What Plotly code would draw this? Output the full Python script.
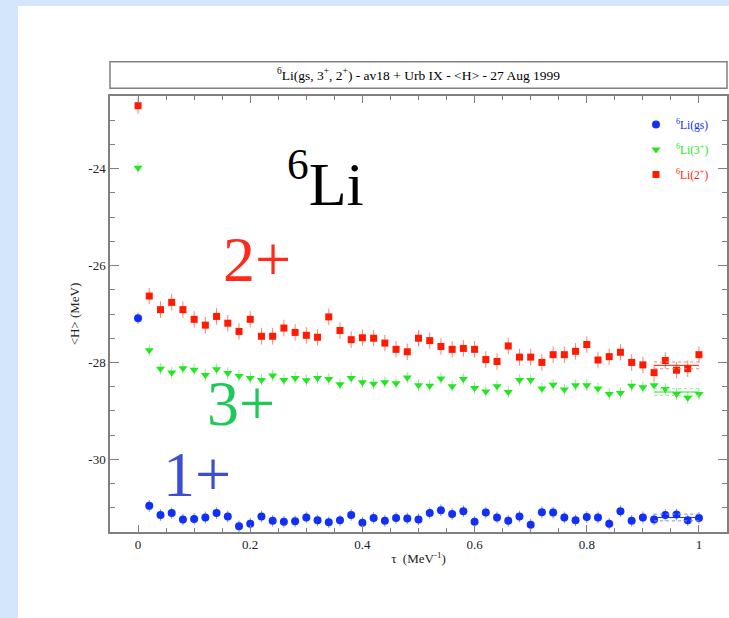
import plotly.graph_objects as go

# ---------------- data ----------------
tau = [0.00, 0.02, 0.04, 0.06, 0.08, 0.10, 0.12, 0.14, 0.16, 0.18, 0.20,
       0.22, 0.24, 0.26, 0.28, 0.30, 0.32, 0.34, 0.36, 0.38, 0.40,
       0.42, 0.44, 0.46, 0.48, 0.50, 0.52, 0.54, 0.56, 0.58, 0.60,
       0.62, 0.64, 0.66, 0.68, 0.70, 0.72, 0.74, 0.76, 0.78, 0.80,
       0.82, 0.84, 0.86, 0.88, 0.90, 0.92, 0.94, 0.96, 0.98, 1.00]

h_2plus = [-22.70,
           -26.63, -26.91, -26.76, -26.91, -27.11, -27.23, -27.05, -27.19, -27.36, -27.11,
           -27.46, -27.46, -27.29, -27.38, -27.44, -27.48, -27.06, -27.34, -27.53, -27.49,
           -27.50, -27.60, -27.73, -27.78, -27.50, -27.55, -27.67, -27.73, -27.71, -27.73,
           -27.94, -27.98, -27.66, -27.89, -27.89, -28.00, -27.84, -27.84, -27.77, -27.63,
           -27.95, -27.88, -27.79, -28.00, -28.05, -28.21, -27.96, -28.16, -28.13, -27.84]

h_3plus = [-23.98,
           -27.75, -28.13, -28.21, -28.12, -28.15, -28.26, -28.14, -28.22, -28.28, -28.32,
           -28.36, -28.27, -28.36, -28.32, -28.37, -28.32, -28.34, -28.45, -28.32, -28.41,
           -28.44, -28.41, -28.43, -28.31, -28.47, -28.48, -28.33, -28.49, -28.34, -28.53,
           -28.60, -28.49, -28.61, -28.36, -28.36, -28.54, -28.46, -28.56, -28.47, -28.47,
           -28.54, -28.65, -28.63, -28.48, -28.51, -28.47, -28.55, -28.65, -28.73, -28.65]

h_gs = [-27.09,
        -30.96, -31.15, -31.11, -31.24, -31.23, -31.20, -31.11, -31.18, -31.38, -31.33,
        -31.18, -31.27, -31.29, -31.28, -31.20, -31.26, -31.30, -31.26, -31.15, -31.31,
        -31.21, -31.27, -31.21, -31.22, -31.24, -31.11, -31.05, -31.13, -31.07, -31.29,
        -31.10, -31.20, -31.27, -31.18, -31.35, -31.09, -31.10, -31.20, -31.26, -31.19,
        -31.20, -31.33, -31.07, -31.27, -31.20, -31.24, -31.15, -31.14, -31.26, -31.21]

err_2plus = 0.17
err_3plus = 0.12
err_gs = 0.12

fit_tau = [0.92, 1.00]
fit_2plus = -28.06
fit_3plus = -28.61
fit_gs = -31.20
fit_err = 0.07

series_names = ["<sup>6</sup>Li(gs)", "<sup>6</sup>Li(3<sup>+</sup>)", "<sup>6</sup>Li(2<sup>+</sup>)"]
x_ticks = [0, 0.2, 0.4, 0.6, 0.8, 1]
x_tick_text = ["0", "0.2", "0.4", "0.6", "0.8", "1"]
y_ticks = [-24, -26, -28, -30]
y_tick_text = ["-24", "-26", "-28", "-30"]

# ---------------- style ----------------
W, H = 729, 618
ML, MR, MT, MB = 110, 2, 96, 86
PW, PH = W - ML - MR, H - MT - MB
SERIF = "Liberation Serif, Times New Roman, serif"
BLUE, GREEN, RED = "#1030f5", "#22e622", "#ff1a00"
BLUE_E, GREEN_E, RED_E = "#7f8cff", "#8ff08f", "#ff8070"
FRAME = "#808080"


def px(x):
    return (x - ML) / PW


def py(y):
    return (H - MB - y) / PH


def span(color, txt):
    return "<span style='color:%s'>%s</span>" % (color, txt)


fig = go.Figure()

fig.add_trace(go.Scatter(
    x=tau, y=h_gs, mode="markers", name=span(BLUE, series_names[0]),
    legendgroup="a",
    marker=dict(symbol="circle", size=8, color=BLUE),
    error_y=dict(type="constant", value=err_gs, color=BLUE_E, thickness=1, width=0)))
fig.add_trace(go.Scatter(
    x=tau, y=h_3plus, mode="markers", name=span(GREEN, series_names[1]),
    legendgroup="b",
    marker=dict(symbol="triangle-down", size=8, color=GREEN),
    error_y=dict(type="constant", value=err_3plus, color=GREEN_E, thickness=1, width=0)))
fig.add_trace(go.Scatter(
    x=tau, y=h_2plus, mode="markers", name=span(RED, series_names[2]),
    legendgroup="c",
    marker=dict(symbol="square", size=7, color=RED),
    error_y=dict(type="constant", value=err_2plus, color=RED_E, thickness=1, width=0)))

# fit lines over the last points
for val, col, colE in [(fit_2plus, RED, RED_E), (fit_3plus, GREEN, GREEN_E), (fit_gs, BLUE, BLUE_E)]:
    fig.add_trace(go.Scatter(x=fit_tau, y=[val, val], mode="lines", showlegend=False,
                             line=dict(color=col, width=1), hoverinfo="skip"))
    for s in (-1, 1):
        fig.add_trace(go.Scatter(x=fit_tau, y=[val + s * fit_err, val + s * fit_err], mode="lines",
                                 showlegend=False, line=dict(color=colE, width=1, dash="dot"),
                                 hoverinfo="skip"))

shapes = [
    dict(type="rect", xref="paper", yref="paper", x0=px(0), x1=px(18), y0=py(H), y1=py(0),
         fillcolor="#d4e6fb", line=dict(width=0), layer="below"),
    dict(type="rect", xref="paper", yref="paper", x0=px(0), x1=px(W), y0=py(6), y1=py(0),
         fillcolor="#d4e6fb", line=dict(width=0), layer="below"),
    dict(type="rect", xref="paper", yref="paper", x0=0, x1=1, y0=py(88.3), y1=py(61.7),
         fillcolor="rgba(0,0,0,0)", line=dict(color=FRAME, width=1.5)),
]

annotations = [
    dict(text="<sup>6</sup>Li(gs, 3<sup>+</sup>, 2<sup>+</sup>) - av18 + Urb IX - &lt;H&gt; - 27 Aug 1999",
         xref="paper", yref="paper", x=0.5, y=py(75), xanchor="center", yanchor="middle",
         showarrow=False, font=dict(family=SERIF, size=13.5, color="black")),
    dict(text="<sup>6</sup>Li", xref="paper", yref="paper", x=px(285), y=py(179),
         xanchor="left", yanchor="middle", showarrow=False,
         font=dict(family=SERIF, size=62, color="black")),
    dict(text="2+", xref="paper", yref="paper", x=px(221), y=py(259),
         xanchor="left", yanchor="middle", showarrow=False,
         font=dict(family=SERIF, size=64, color="#ff2a1a")),
    dict(text="3+", xref="paper", yref="paper", x=px(205), y=py(403),
         xanchor="left", yanchor="middle", showarrow=False,
         font=dict(family=SERIF, size=64, color="#1ec85a")),
    dict(text="1+", xref="paper", yref="paper", x=px(161), y=py(474),
         xanchor="left", yanchor="middle", showarrow=False,
         font=dict(family=SERIF, size=64, color="#3e4ed2")),
]

axis_common = dict(
    showline=True, linecolor=FRAME, linewidth=1.5, mirror="ticks",
    ticks="inside", tickcolor=FRAME, tickwidth=1,
    showgrid=False, zeroline=False,
    tickfont=dict(family=SERIF, size=13, color="#222"),
)

fig.update_layout(
    width=W, height=H,
    margin=dict(l=ML, r=MR, t=MT, b=MB, autoexpand=False),
    paper_bgcolor="white", plot_bgcolor="white",
    showlegend=True,
    legend=dict(x=px(636), y=py(110), xanchor="left", yanchor="top",
                bgcolor="rgba(0,0,0,0)", font=dict(family=SERIF, size=11.5),
                itemwidth=30, tracegroupgap=6, traceorder="grouped"),
    xaxis=dict(range=[-0.05, 1.05], tickvals=x_ticks, ticktext=x_tick_text, ticklen=7,
               minor=dict(dtick=0.05, ticks="inside", ticklen=4, tickcolor=FRAME, showgrid=False),
               title=dict(text="τ  (MeV<sup>-1</sup>)", standoff=3,
                          font=dict(family=SERIF, size=13, color="#222")),
               **axis_common),
    yaxis=dict(range=[-31.5, -22.5], tickvals=y_ticks, ticktext=y_tick_text, ticklen=9,
               minor=dict(dtick=0.5, ticks="inside", ticklen=5, tickcolor=FRAME, showgrid=False),
               title=dict(text="&lt;H&gt; (MeV)", standoff=6,
                          font=dict(family=SERIF, size=13, color="#222")),
               **axis_common),
    shapes=shapes,
    annotations=annotations,
)

fig.write_html("out.html", config={"displayModeBar": False},
               post_script="document.body.style.margin='0';")
